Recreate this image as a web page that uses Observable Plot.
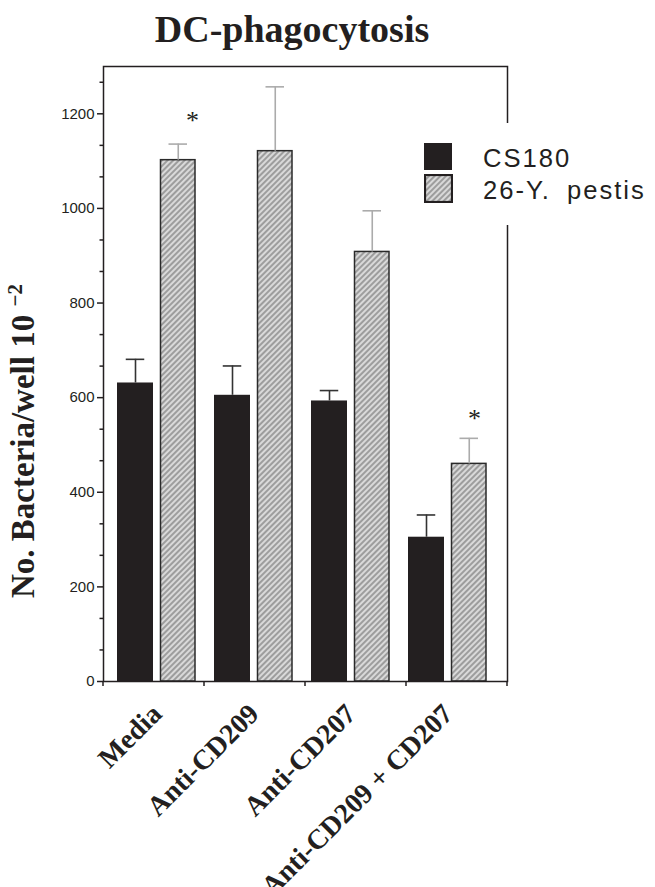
<!DOCTYPE html>
<html>
<head>
<meta charset="utf-8">
<script src="https://cdn.jsdelivr.net/npm/d3@7"></script>
<script src="https://cdn.jsdelivr.net/npm/@observablehq/plot@0.6"></script>
<style>
  body { margin: 0; background: #fff; }
  #wrap { position: relative; width: 655px; height: 887px; overflow: hidden; background: #fff; color: #231f20; }
  #title { position: absolute; left: 0; top: 10px; width: 584px; text-align: center;
           font: bold 38px/38px "Liberation Serif", serif; color: #231f20; white-space: nowrap; }
  #chart { position: absolute; left: 0; top: 55px; }
  #ylab { position: absolute; left: 7px; top: 598px; transform-origin: 0 0; transform: rotate(-90deg);
          white-space: nowrap; font: bold 33px/33px "Liberation Serif", serif; color: #231f20; }
  #ylab .sup { font-size: 21px; position: relative; top: -12px; }
  #legend { position: absolute; left: 410px; top: 123px; width: 245px; height: 102px; background: #fff; }
  #legend svg { position: absolute; left: 14px; }
  #legend .lab { position: absolute; left: 73px; font: 25.6px/26px "Liberation Sans", Arial, sans-serif;
                 letter-spacing: 2px; word-spacing: 7px; color: #231f20; white-space: nowrap; }
</style>
</head>
<body>
<div id="wrap">
  <div id="title"></div>
  <div id="chart"></div>
  <div id="ylab"></div>
  <div id="legend"></div>
</div>
<script>
// ---------- data ----------
const title = "DC-phagocytosis";
const yLabel = "No.  Bacteria/well 10";
const yLabelSup = "\u22122";
const categories = ["Media", "Anti-CD209", "Anti-CD207", "Anti-CD209 + CD207"];
const seriesNames = ["CS180", "26-Y. pestis"];
const cs180 = [631, 605, 593, 305];
const cs180Err = [50, 62, 22, 47];
const pestis = [1102, 1121, 908, 460];
const pestisErr = [34, 136, 87, 54];
const yTicks = [0, 200, 400, 600, 800, 1000, 1200];
const yMinorTicks = [66.7, 133.3, 266.7, 333.3, 466.7, 533.3, 666.7, 733.3, 866.7, 933.3, 1066.7, 1133.3, 1266.7];
const starCategories = ["Media", "Anti-CD209 + CD207"];
const starLevels = [1193, 564];

// ---------- build ----------
const ns = "http://www.w3.org/2000/svg";
const ink = "#231f20";
const data = categories.map((c, i) => ({category: c, cs: cs180[i], csErr: cs180Err[i], yp: pestis[i], ypErr: pestisErr[i]}));
const stars = starCategories.map((c, i) => ({category: c, y: starLevels[i]}));

const hatchDef = (id) => `<pattern id="${id}" patternUnits="userSpaceOnUse" width="4" height="4" patternTransform="rotate(45)">
  <rect width="4" height="4" fill="#d9d9d9"/><rect width="2" height="4" fill="#9d9d9d"/></pattern>`;

const defs = () => {
  const d = document.createElementNS(ns, "defs");
  d.innerHTML = hatchDef("hatch");
  return d;
};

const boundaryTicks = (index, scales, values, dims) => {
  const g = document.createElementNS(ns, "g");
  const x0 = dims.marginLeft, x1 = dims.width - dims.marginRight, yb = dims.height - dims.marginBottom;
  const n = categories.length;
  for (let k = 0; k <= n; k++) {
    const x = x0 + (x1 - x0) * k / n;
    const l = document.createElementNS(ns, "line");
    l.setAttribute("x1", x); l.setAttribute("x2", x);
    l.setAttribute("y1", yb); l.setAttribute("y2", yb + 5);
    l.setAttribute("stroke", ink); l.setAttribute("stroke-width", 1.5);
    g.appendChild(l);
  }
  return g;
};

const chart = Plot.plot({
  width: 655, height: 832,
  marginLeft: 103, marginRight: 148, marginTop: 11, marginBottom: 206,
  style: {background: "transparent", color: ink, fontFamily: "Liberation Sans, Arial, sans-serif"},
  x: {type: "band", domain: categories, paddingInner: 0.1963, paddingOuter: 0.1664, align: 0.4, axis: null},
  y: {domain: [0, 1300], axis: null},
  marks: [
    defs,
    Plot.barY(data, {x: "category", y: "cs", fill: ink, insetLeft: 0, insetRight: 42}),
    Plot.barY(data, {x: "category", y: "yp", fill: "url(#hatch)", stroke: "#2a2a2a", strokeWidth: 1.5, insetLeft: 43.5, insetRight: 0}),
    Plot.ruleX(data, {x: "category", y1: "cs", y2: d => d.cs + d.csErr, dx: -21, stroke: "#333", strokeWidth: 1.6}),
    Plot.tickY(data, {x: "category", y: d => d.cs + d.csErr, insetLeft: 8.75, insetRight: 50.75, stroke: "#333", strokeWidth: 1.6}),
    Plot.ruleX(data, {x: "category", y1: "yp", y2: d => d.yp + d.ypErr, dx: 21.75, stroke: "#ababab", strokeWidth: 1.6}),
    Plot.tickY(data, {x: "category", y: d => d.yp + d.ypErr, insetLeft: 51.5, insetRight: 8, stroke: "#ababab", strokeWidth: 1.6}),
    Plot.frame({stroke: ink, strokeWidth: 1.5}),
    Plot.axisY({ticks: yTicks, tickSize: 6, tickPadding: 3, fontSize: 15, tickFormat: d => String(d), label: null, strokeWidth: 1.5}),
    Plot.axisY({ticks: yMinorTicks, tickSize: 3.5, tickFormat: () => "", label: null, strokeWidth: 1.5}),
    boundaryTicks,
    Plot.text(categories, {x: d => d, text: d => d, frameAnchor: "bottom", rotate: -45, textAnchor: "end",
      dx: 7, dy: 34, fontSize: 28, fontFamily: "Liberation Serif, serif", fontWeight: "bold", fill: ink}),
    Plot.text(stars.slice(0, 1), {x: "category", y: "y", text: () => "*", dx: 36, dy: 4, fontSize: 26, fontFamily: "Liberation Serif, serif", fill: ink}),
    Plot.text(stars.slice(1), {x: "category", y: "y", text: () => "*", dx: 27, dy: 4, fontSize: 26, fontFamily: "Liberation Serif, serif", fill: ink})
  ]
});
document.getElementById("chart").appendChild(chart);

document.getElementById("title").textContent = title;
const yl = document.getElementById("ylab");
yl.appendChild(document.createTextNode(yLabel + " "));
const sp = document.createElement("span"); sp.className = "sup"; sp.textContent = yLabelSup; yl.appendChild(sp);

// legend
const leg = document.getElementById("legend");
leg.innerHTML = `
  <svg width="28" height="28" style="top:20px"><rect width="28" height="27" fill="${ink}"/></svg>
  <svg width="29" height="29" style="top:51px"><defs>${hatchDef("hatchLeg")}</defs>
    <rect x="1" y="1" width="27" height="27" fill="url(#hatchLeg)" stroke="${ink}" stroke-width="2.2"/></svg>`;
[21.8, 54].forEach((top, i) => {
  const s = document.createElement("div");
  s.className = "lab"; s.style.top = top + "px"; s.textContent = seriesNames[i];
  leg.appendChild(s);
});
</script>
</body>
</html>
